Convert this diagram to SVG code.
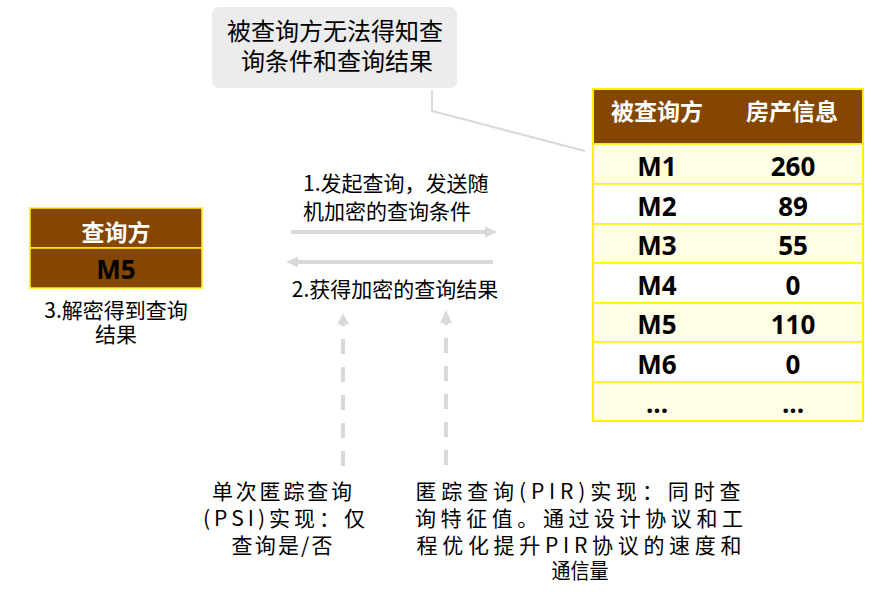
<svg xmlns="http://www.w3.org/2000/svg" width="894" height="592" viewBox="0 0 894 592">
<style>
.cjk{font-family:"Noto Sans CJK SC","Noto Sans",sans-serif;fill:#000;}
.hdr{font-family:"Noto Sans CJK SC",sans-serif;font-weight:700;fill:#fff;font-size:23px;text-anchor:middle;}
.cell{font-family:"Open Sans","Noto Sans",sans-serif;font-weight:700;fill:#000;font-size:26px;text-anchor:middle;}
.conn{stroke:#D9D9D9;fill:none;}
.head{fill:#D9D9D9;}
.brown{fill:#844600;stroke:#FFEF00;stroke-width:1.5;}
.cream{fill:#FFFDE3;stroke:#FFF200;stroke-width:1.5;}
.white{fill:#FFFFFF;stroke:#FFF200;stroke-width:1.5;}
</style>
<rect width="894" height="592" fill="#fff"/>

<g id="callout">
  <rect x="212" y="7" width="245" height="81" rx="7" fill="#ECECEC"/>
  <text class="cjk" font-size="24" text-anchor="middle"><tspan x="335" y="40">被查询方无法得知查</tspan><tspan x="337" y="70">询条件和查询结果</tspan></text>
</g>

<g id="connectors">
  <polyline class="conn" stroke-width="2" points="432,90 432,111 585,151"/>
  <line class="conn" stroke-width="4" x1="291" y1="232" x2="486" y2="232"/>
  <polygon class="head" points="497,232 485,226.5 485,237.5"/>
  <line class="conn" stroke-width="4" x1="493" y1="262" x2="297" y2="262"/>
  <polygon class="head" points="286,262 298,256.5 298,267.5"/>
  <line class="conn" stroke-width="4" stroke-dasharray="15 13" x1="343" y1="466" x2="343" y2="324"/>
  <polygon class="head" points="343,313 337,324.5 349,324.5"/>
  <line class="conn" stroke-width="4" stroke-dasharray="15 13" x1="446" y1="465" x2="446" y2="323"/>
  <polygon class="head" points="446,310 440,323 452,323"/>
</g>

<g id="querier">
  <rect class="brown" x="30" y="208" width="172" height="40"/>
  <rect class="brown" x="30" y="248" width="172" height="40"/>
  <text class="hdr" x="116" y="241">查询方</text>
  <text class="cell" x="116" y="279" font-size="25">M5</text>
</g>

<g id="step3">
  <text class="cjk" font-size="21" text-anchor="middle"><tspan x="116" y="318">3.解密得到查询</tspan><tspan x="116" y="342">结果</tspan></text>
</g>

<g id="step1">
  <text class="cjk" font-size="21"><tspan x="303" y="191">1.发起查询，发送随</tspan><tspan x="303" y="219">机加密的查询条件</tspan></text>
</g>

<g id="step2">
  <text class="cjk" x="395" y="297" font-size="21" text-anchor="middle">2.获得加密的查询结果</text>
</g>

<g id="table">
  <rect class="brown" x="593" y="89" width="270" height="55"/>
  <rect class="cream" x="593" y="144" width="270" height="40"/>
  <rect class="white" x="593" y="184" width="270" height="40"/>
  <rect class="cream" x="593" y="224" width="270" height="39"/>
  <rect class="white" x="593" y="263" width="270" height="40"/>
  <rect class="cream" x="593" y="303" width="270" height="39"/>
  <rect class="white" x="593" y="342" width="270" height="40"/>
  <rect class="cream" x="593" y="382" width="270" height="39"/>
  <rect x="593" y="89" width="270" height="332" fill="none" stroke="#FFF200" stroke-width="2"/>
  <text class="hdr" x="657" y="120">被查询方</text>
  <text class="hdr" x="792" y="120">房产信息</text>
  <text class="cell" x="657" y="176">M1</text><text class="cell" x="793" y="176">260</text>
  <text class="cell" x="657" y="216">M2</text><text class="cell" x="793" y="216">89</text>
  <text class="cell" x="657" y="255">M3</text><text class="cell" x="793" y="255">55</text>
  <text class="cell" x="657" y="295">M4</text><text class="cell" x="793" y="295">0</text>
  <text class="cell" x="657" y="334">M5</text><text class="cell" x="793" y="334">110</text>
  <text class="cell" x="657" y="374">M6</text><text class="cell" x="793" y="374">0</text>
  <text class="cell" x="657" y="413">...</text><text class="cell" x="793" y="413">...</text>
</g>

<g id="psi-note">
  <text class="cjk" font-size="21" text-anchor="middle"><tspan x="282" y="499" textLength="140" lengthAdjust="spacing">单次匿踪查询</tspan><tspan x="284" y="526" textLength="162" lengthAdjust="spacing">(PSI)实现：仅</tspan><tspan x="282" y="553" textLength="101" lengthAdjust="spacing">查询是/否</tspan></text>
</g>

<g id="pir-note">
  <text class="cjk" font-size="21" text-anchor="middle"><tspan x="578" y="499" textLength="325" lengthAdjust="spacing">匿踪查询(PIR)实现：同时查</tspan><tspan x="579" y="526" textLength="328" lengthAdjust="spacing">询特征值。通过设计协议和工</tspan><tspan x="579" y="553" textLength="325" lengthAdjust="spacing">程优化提升PIR协议的速度和</tspan><tspan x="580" y="578" textLength="57" lengthAdjust="spacingAndGlyphs">通信量</tspan></text>
</g>
</svg>
